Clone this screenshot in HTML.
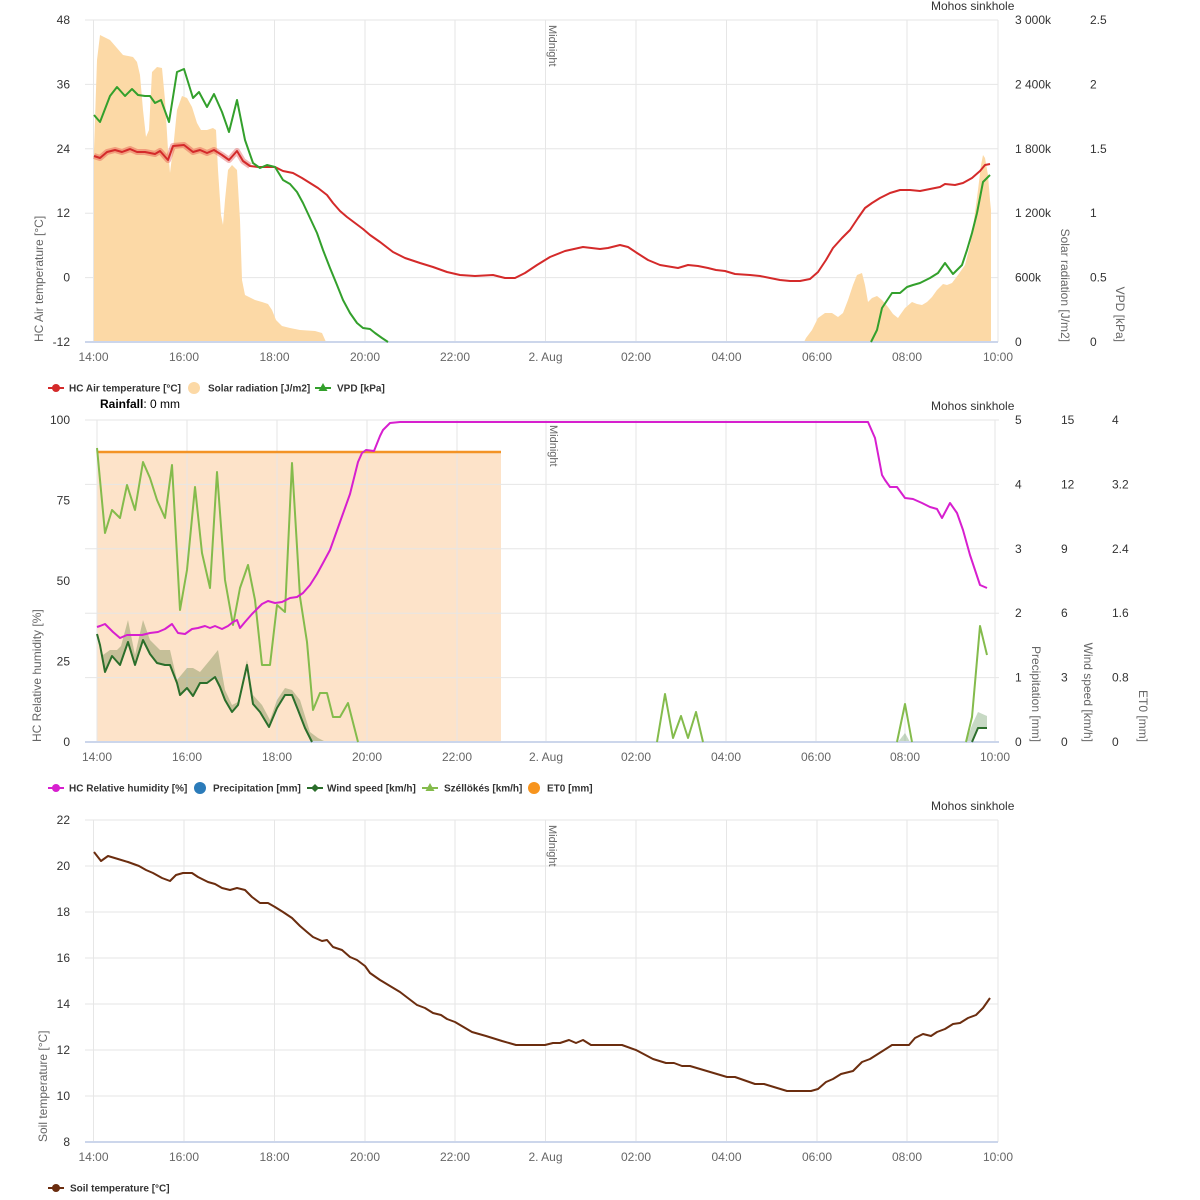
<!DOCTYPE html>
<html><head><meta charset="utf-8"><style>
html,body{margin:0;padding:0;background:#fff;}
svg{display:block;font-family:"Liberation Sans",Arial,sans-serif;}
.g{stroke:#e6e6e6;stroke-width:1;fill:none;}
.ax{stroke:#ccd6eb;stroke-width:2;}
.tl{font-size:12px;fill:#333;}
.xl{font-size:12px;fill:#666;text-anchor:middle;}
.at{font-size:12px;fill:#666;}
.lg{font-size:10px;font-weight:bold;fill:#333;}
.mid{font-size:11px;fill:#666;}
</style></head><body>
<svg width="1200" height="1200" viewBox="0 0 1200 1200" xmlns="http://www.w3.org/2000/svg">

<!-- ================= TOP CHART ================= -->
<text x="931" y="10" style="font-size:12px;fill:#333">Mohos sinkhole</text>
<g class="g">
<line x1="85" y1="20" x2="998" y2="20"/><line x1="85" y1="84.4" x2="998" y2="84.4"/><line x1="85" y1="148.8" x2="998" y2="148.8"/><line x1="85" y1="213.2" x2="998" y2="213.2"/><line x1="85" y1="277.6" x2="998" y2="277.6"/>
<line x1="93.5" y1="20" x2="93.5" y2="342"/><line x1="184" y1="20" x2="184" y2="342"/><line x1="274.5" y1="20" x2="274.5" y2="342"/><line x1="365" y1="20" x2="365" y2="342"/><line x1="455" y1="20" x2="455" y2="342"/><line x1="545.5" y1="20" x2="545.5" y2="342"/><line x1="636" y1="20" x2="636" y2="342"/><line x1="726.5" y1="20" x2="726.5" y2="342"/><line x1="817" y1="20" x2="817" y2="342"/><line x1="907" y1="20" x2="907" y2="342"/><line x1="998" y1="20" x2="998" y2="342"/>
</g>
<text class="mid" transform="translate(549,25) rotate(90)">Midnight</text>
<!-- solar -->
<polygon fill="#fcd9a6" points="94,342 94,150 97,60 100,35 110,40 123,55 133,57 137,62 140,75 143,110 146,137 149,130 152,72 157,67 162,68 165,100 168,150 170,173 174,140 177,110 182,96 187,98 192,107 197,123 201,130 207,130 213,128 216,130 218,170 221,215 223,225 225,200 228,170 232,165 237,170 240,220 242,280 245,295 255,300 262,302 268,304 272,310 276,320 282,326 290,328 300,330 315,331 322,333 326,342"/>
<polygon fill="#fcd9a6" points="804,342 806,338 812,330 818,318 825,313 832,313 838,317 843,313 848,300 853,285 857,275 862,273 865,285 868,302 872,298 877,296 882,300 888,307 893,314 898,318 900,315 905,308 912,302 917,304 922,305 927,302 932,297 937,290 943,284 947,285 952,283 958,275 965,265 970,245 974,220 978,190 981,165 983,155 985,158 988,175 990,200 991,210 991,342"/>
<line class="ax" x1="85" y1="342" x2="998" y2="342"/>
<!-- temp band -->
<polyline fill="none" stroke="rgba(220,50,50,0.35)" stroke-width="6" stroke-linejoin="round" points="94,156 100,158 107,152 115,150 122,152 130,149 137,152 145,152 155,154 160,151 168,160 173,146 184,145 193,152 200,150 207,153 214,150 222,155 229,160 237,151 243,161 250,166"/>
<!-- temperature -->
<polyline fill="none" stroke="#d42a2a" stroke-width="2" stroke-linejoin="round" points="94,156 100,158 107,152 115,150 122,152 130,149 137,152 145,152 155,154 160,151 168,160 173,146 184,145 193,152 200,150 207,153 214,150 222,155 229,160 237,151 243,161 250,166 258,167 268,167 275,167 283,171 293,173 302,178 310,183 318,188 327,195 333,203 340,211 347,217 355,223 363,229 370,235 380,242 393,252 405,258 420,263 433,267 447,272 460,275 475,276 493,275 505,278 515,278 525,273 537,265 550,257 565,251 583,247 600,249 608,248 620,245 628,247 637,253 648,260 660,265 672,267 678,268 688,265 698,266 708,268 716,270 725,271 735,274 750,275 760,276 770,278 780,280 790,281 800,281 810,279 818,272 826,260 833,248 842,238 850,230 858,218 865,208 872,203 880,198 890,193 900,190 910,190 920,191 930,189 940,187 945,184 955,185 963,183 972,178 980,171 985,165 990,164"/>
<!-- VPD -->
<polyline fill="none" stroke="#33a02c" stroke-width="2" stroke-linejoin="round" points="94,115 100,122 110,96 117,87 125,96 132,89 138,95 145,96 150,96 155,103 161,100 169,122 177,72 184,69 193,98 199,92 207,107 214,94 222,112 229,132 237,100 245,140 253,163 260,168 267,165 275,167 283,180 290,184 297,192 303,203 310,218 317,233 323,250 330,268 337,285 343,300 350,313 357,323 363,328 370,329 375,333 382,338 388,342"/>
<polyline fill="none" stroke="#33a02c" stroke-width="2" stroke-linejoin="round" points="871,342 877,330 882,308 886,302 892,293 900,293 907,287 913,285 920,283 930,278 938,273 945,263 953,274 962,265 967,250 972,233 977,213 983,182 990,175"/>
<!-- axes labels -->
<g class="tl" text-anchor="end">
<text x="70" y="24">48</text><text x="70" y="88.4">36</text><text x="70" y="152.8">24</text><text x="70" y="217.2">12</text><text x="70" y="281.6">0</text><text x="70" y="346">-12</text>
</g>
<g class="tl">
<text x="1015" y="24">3 000k</text><text x="1015" y="88.4">2 400k</text><text x="1015" y="152.8">1 800k</text><text x="1015" y="217.2">1 200k</text><text x="1015" y="281.6">600k</text><text x="1015" y="346">0</text>
<text x="1090" y="24">2.5</text><text x="1090" y="88.4">2</text><text x="1090" y="152.8">1.5</text><text x="1090" y="217.2">1</text><text x="1090" y="281.6">0.5</text><text x="1090" y="346">0</text>
</g>
<g class="xl">
<text x="93.5" y="361">14:00</text><text x="184" y="361">16:00</text><text x="274.5" y="361">18:00</text><text x="365" y="361">20:00</text><text x="455" y="361">22:00</text><text x="545.5" y="361">2. Aug</text><text x="636" y="361">02:00</text><text x="726.5" y="361">04:00</text><text x="817" y="361">06:00</text><text x="907" y="361">08:00</text><text x="998" y="361">10:00</text>
</g>
<text class="at" transform="translate(43,342) rotate(-90)">HC Air temperature [°C]</text>
<text class="at" text-anchor="end" transform="translate(1061,342) rotate(90)">Solar radiation [J/m2]</text>
<text class="at" text-anchor="end" transform="translate(1116,342) rotate(90)">VPD [kPa]</text>
<!-- legend -->
<line x1="48" y1="388" x2="64" y2="388" stroke="#d42a2a" stroke-width="2"/><circle cx="56" cy="388" r="4" fill="#d42a2a"/>
<text class="lg" x="69" y="391.5">HC Air temperature [°C]</text>
<circle cx="194" cy="388" r="6" fill="#fcd9a6"/>
<text class="lg" x="208" y="391.5">Solar radiation [J/m2]</text>
<line x1="315" y1="388" x2="331" y2="388" stroke="#33a02c" stroke-width="2"/><polygon points="323,383 327.5,391 318.5,391" fill="#33a02c"/>
<text class="lg" x="337" y="391.5">VPD [kPa]</text>

<!-- ================= MIDDLE CHART ================= -->
<text x="100" y="408" style="font-size:12px;fill:#000"><tspan font-weight="bold">Rainfall</tspan>: 0 mm</text>
<text x="931" y="410" style="font-size:12px;fill:#333">Mohos sinkhole</text>
<rect x="97" y="452" width="404" height="290" fill="#fde3c9"/>
<g class="g">
<line x1="85" y1="420" x2="999" y2="420"/><line x1="85" y1="484.4" x2="999" y2="484.4"/><line x1="85" y1="548.8" x2="999" y2="548.8"/><line x1="85" y1="613.2" x2="999" y2="613.2"/><line x1="85" y1="677.6" x2="999" y2="677.6"/>
<line x1="97" y1="420" x2="97" y2="742"/><line x1="187" y1="420" x2="187" y2="742"/><line x1="277" y1="420" x2="277" y2="742"/><line x1="367" y1="420" x2="367" y2="742"/><line x1="457" y1="420" x2="457" y2="742"/><line x1="546" y1="420" x2="546" y2="742"/><line x1="636" y1="420" x2="636" y2="742"/><line x1="726" y1="420" x2="726" y2="742"/><line x1="816" y1="420" x2="816" y2="742"/><line x1="905" y1="420" x2="905" y2="742"/><line x1="995" y1="420" x2="995" y2="742"/>
</g>
<text class="mid" transform="translate(550,425) rotate(90)">Midnight</text>
<line x1="97" y1="452" x2="501" y2="452" stroke="#f39325" stroke-width="2.5"/>
<!-- wind band -->
<polygon fill="rgba(70,110,40,0.3)" points="97,634 103,655 110,650 117,650 121,646 128,620 135,655 143,620 150,640 160,650 170,650 177,680 187,668 193,668 200,672 210,660 218,650 225,690 232,705 238,702 247,660 253,695 262,705 270,720 277,700 285,688 292,690 300,700 310,732 318,738 326,742 312,742 305,728 298,710 292,695 285,695 277,708 269,727 260,712 253,704 247,665 238,705 232,712 225,700 220,687 215,677 207,683 200,683 193,696 187,688 180,695 177,683 170,665 165,665 157,663 150,654 143,640 135,665 128,642 120,665 112,656 105,672 100,645"/>
<polygon fill="rgba(70,130,60,0.3)" points="898,742 905,733 910,742"/>
<polygon fill="rgba(70,130,60,0.3)" points="966,742 972,725 978,712 987,716 987,728 978,728 972,742"/>
<line class="ax" x1="85" y1="742" x2="999" y2="742"/>
<!-- gusts -->
<g fill="none" stroke="#84bb4c" stroke-width="2" stroke-linejoin="round">
<polyline points="97,448 105,533 112,510 120,518 127,485 135,510 143,462 150,478 157,500 165,518 172,465 180,610 187,570 195,487 202,553 210,588 217,472 225,580 233,625 240,588 248,565 255,600 262,665 270,665 277,605 285,612 292,463 300,597 307,642 313,710 320,693 327,693 333,717 340,717 348,703 358,742"/>
<polyline points="657,742 665,694 673,738 681,716 688,738 696,712 703,742"/>
<polyline points="897,742 905,704 912,742"/>
<polyline points="966,742 972,717 980,626 987,655"/>
</g>
<!-- wind speed -->
<g fill="none" stroke="#2b6e2b" stroke-width="2" stroke-linejoin="round">
<polyline points="97,634 100,645 105,672 112,656 120,665 128,642 135,665 143,640 150,654 157,663 165,665 170,665 177,683 180,695 187,688 193,696 200,683 207,683 215,677 220,687 225,700 232,712 238,705 247,665 253,704 260,712 269,727 277,708 285,695 292,695 298,710 305,728 312,742"/>
<polyline points="972,742 978,728 987,728"/>
</g>
<!-- RH -->
<polyline fill="none" stroke="#d71fcf" stroke-width="2" stroke-linejoin="round" points="97,627 100,626 105,624 113,632 120,638 127,635 135,635 142,635 150,633 158,632 165,629 172,624 178,633 185,634 192,629 198,628 205,626 210,628 215,626 222,629 228,626 233,622 237,620 240,628 245,622 252,614 258,608 262,604 268,601 275,603 282,602 290,598 297,597 303,593 310,585 317,574 323,563 330,550 340,522 350,494 358,462 362,453 366,450 374,451 380,436 383,430 390,423 400,422 868,422 875,438 882,475 885,480 890,487 897,487 905,498 913,499 922,503 930,507 937,509 942,518 950,503 957,513 963,530 970,555 975,570 980,585 987,588"/>
<g class="tl" text-anchor="end">
<text x="70" y="424">100</text><text x="70" y="504.5">75</text><text x="70" y="585">50</text><text x="70" y="665.5">25</text><text x="70" y="746">0</text>
</g>
<g class="tl">
<text x="1015" y="424">5</text><text x="1015" y="488.4">4</text><text x="1015" y="552.8">3</text><text x="1015" y="617.2">2</text><text x="1015" y="681.6">1</text><text x="1015" y="746">0</text>
<text x="1061" y="424">15</text><text x="1061" y="488.4">12</text><text x="1061" y="552.8">9</text><text x="1061" y="617.2">6</text><text x="1061" y="681.6">3</text><text x="1061" y="746">0</text>
<text x="1112" y="424">4</text><text x="1112" y="488.4">3.2</text><text x="1112" y="552.8">2.4</text><text x="1112" y="617.2">1.6</text><text x="1112" y="681.6">0.8</text><text x="1112" y="746">0</text>
</g>
<g class="xl">
<text x="97" y="761">14:00</text><text x="187" y="761">16:00</text><text x="277" y="761">18:00</text><text x="367" y="761">20:00</text><text x="457" y="761">22:00</text><text x="546" y="761">2. Aug</text><text x="636" y="761">02:00</text><text x="726" y="761">04:00</text><text x="816" y="761">06:00</text><text x="905" y="761">08:00</text><text x="995" y="761">10:00</text>
</g>
<text class="at" transform="translate(41,742) rotate(-90)">HC Relative humidity [%]</text>
<text class="at" text-anchor="end" transform="translate(1032,742) rotate(90)">Precipitation [mm]</text>
<text class="at" text-anchor="end" transform="translate(1084,742) rotate(90)">Wind speed [km/h]</text>
<text class="at" text-anchor="end" transform="translate(1139,742) rotate(90)">ET0 [mm]</text>
<!-- legend -->
<line x1="48" y1="788" x2="64" y2="788" stroke="#d71fcf" stroke-width="2"/><circle cx="56" cy="788" r="4" fill="#d71fcf"/>
<text class="lg" x="69" y="791.5">HC Relative humidity [%]</text>
<circle cx="200" cy="788" r="6" fill="#2b7bb9"/>
<text class="lg" x="213" y="791.5">Precipitation [mm]</text>
<line x1="307" y1="788" x2="323" y2="788" stroke="#2b6e2b" stroke-width="2"/><polygon points="315,784 319,788 315,792 311,788" fill="#2b6e2b"/>
<text class="lg" x="327" y="791.5">Wind speed [km/h]</text>
<line x1="422" y1="788" x2="438" y2="788" stroke="#84bb4c" stroke-width="2"/><polygon points="430,783 434.5,791 425.5,791" fill="#84bb4c"/>
<text class="lg" x="444" y="791.5">Széllökés [km/h]</text>
<circle cx="534" cy="788" r="6" fill="#f7941d"/>
<text class="lg" x="547" y="791.5">ET0 [mm]</text>

<!-- ================= BOTTOM CHART ================= -->
<text x="931" y="810" style="font-size:12px;fill:#333">Mohos sinkhole</text>
<g class="g">
<line x1="85" y1="820" x2="998" y2="820"/><line x1="85" y1="866" x2="998" y2="866"/><line x1="85" y1="912" x2="998" y2="912"/><line x1="85" y1="958" x2="998" y2="958"/><line x1="85" y1="1004" x2="998" y2="1004"/><line x1="85" y1="1050" x2="998" y2="1050"/><line x1="85" y1="1096" x2="998" y2="1096"/>
<line x1="93.5" y1="820" x2="93.5" y2="1142"/><line x1="184" y1="820" x2="184" y2="1142"/><line x1="274.5" y1="820" x2="274.5" y2="1142"/><line x1="365" y1="820" x2="365" y2="1142"/><line x1="455" y1="820" x2="455" y2="1142"/><line x1="545.5" y1="820" x2="545.5" y2="1142"/><line x1="636" y1="820" x2="636" y2="1142"/><line x1="726.5" y1="820" x2="726.5" y2="1142"/><line x1="817" y1="820" x2="817" y2="1142"/><line x1="907" y1="820" x2="907" y2="1142"/><line x1="998" y1="820" x2="998" y2="1142"/>
</g>
<text class="mid" transform="translate(549,825) rotate(90)">Midnight</text>
<line class="ax" x1="85" y1="1142" x2="998" y2="1142"/>
<polyline fill="none" stroke="#6b2d0f" stroke-width="2" stroke-linejoin="round" points="94,852 101,861 108,856 118,859 128,862 139,866 146,870 153,873 162,878 170,881 176,875 183,873 192,873 198,877 208,882 215,884 222,888 230,890 237,888 245,890 252,897 260,903 268,903 275,907 283,912 292,918 300,926 307,932 313,937 322,941 327,940 333,947 342,950 350,957 357,960 365,966 370,973 380,980 390,986 400,992 417,1005 425,1008 433,1013 441,1015 447,1019 455,1022 472,1032 486,1036 502,1041 516,1045 545,1045 553,1043 560,1043 569,1040 576,1043 583,1040 591,1045 622,1045 636,1050 653,1059 666,1063 674,1063 682,1066 690,1066 727,1077 735,1077 755,1084 764,1084 787,1091 811,1091 818,1089 826,1082 833,1079 841,1074 853,1071 862,1062 870,1059 892,1045 909,1045 915,1038 923,1034 931,1036 937,1032 945,1029 953,1024 960,1023 968,1018 976,1015 983,1008 990,998"/>
<g class="tl" text-anchor="end">
<text x="70" y="824">22</text><text x="70" y="870">20</text><text x="70" y="916">18</text><text x="70" y="962">16</text><text x="70" y="1008">14</text><text x="70" y="1054">12</text><text x="70" y="1100">10</text><text x="70" y="1146">8</text>
</g>
<g class="xl">
<text x="93.5" y="1161">14:00</text><text x="184" y="1161">16:00</text><text x="274.5" y="1161">18:00</text><text x="365" y="1161">20:00</text><text x="455" y="1161">22:00</text><text x="545.5" y="1161">2. Aug</text><text x="636" y="1161">02:00</text><text x="726.5" y="1161">04:00</text><text x="817" y="1161">06:00</text><text x="907" y="1161">08:00</text><text x="998" y="1161">10:00</text>
</g>
<text class="at" transform="translate(47,1142) rotate(-90)">Soil temperature [°C]</text>
<line x1="48" y1="1188" x2="64" y2="1188" stroke="#6b2d0f" stroke-width="2"/><circle cx="56" cy="1188" r="4" fill="#6b2d0f"/>
<text class="lg" x="70" y="1191.5">Soil temperature [°C]</text>
</svg>
</body></html>
